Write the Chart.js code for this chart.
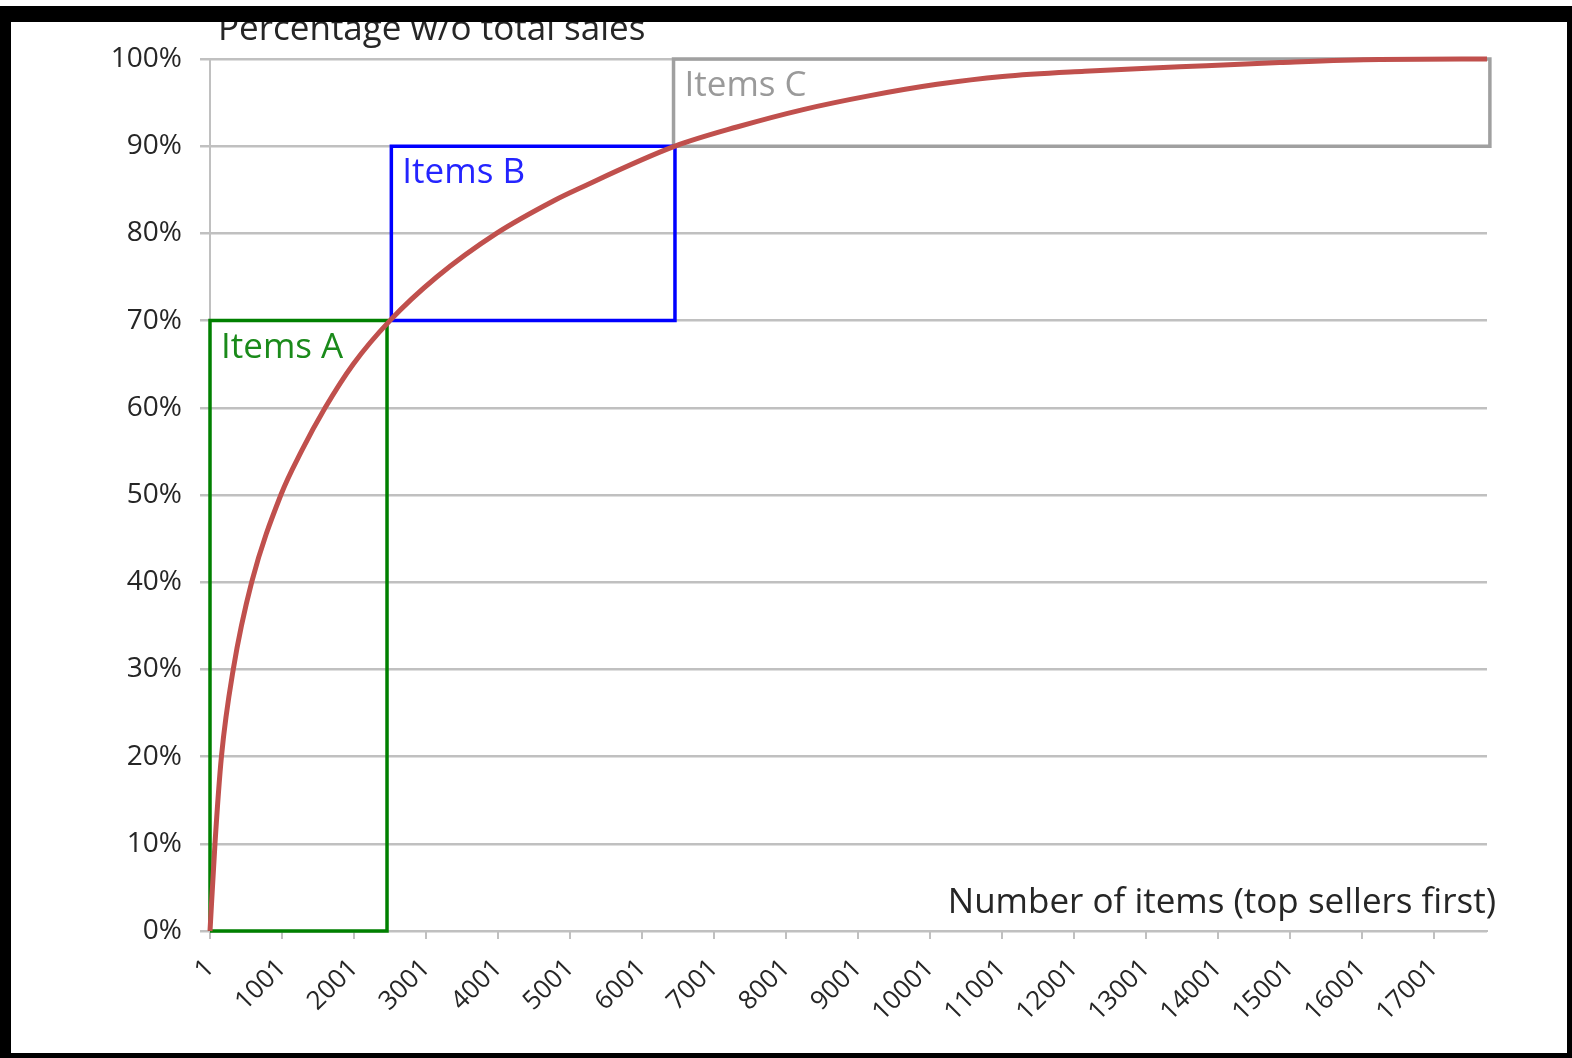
<!DOCTYPE html>
<html>
<head>
<meta charset="utf-8">
<script src="https://cdn.jsdelivr.net/npm/chart.js@4.4.1/dist/chart.umd.min.js"></script>
<style>
  html, body { margin: 0; padding: 0; background: #fff; }
  #wrap { position: relative; width: 1572px; height: 1058px; overflow: hidden; }
  #c { position: absolute; left: 0; top: 0; }
  /* schwarzer Rahmen vom Screenshot, liegt über dem Canvas */
  #frame { position: absolute; left: 0; top: 6px; width: 1572px; height: 1052px; box-sizing: border-box;
    border-style: solid; border-color: #000; border-width: 16px 5px 5px 11px; pointer-events: none; }
</style>
</head>
<body>
<div id="wrap">
  <canvas id="c" width="1572" height="1058"></canvas>
  <div id="frame"></div>
</div>
<script>
// Pareto-Kurve: kumulierter Umsatzanteil über Anzahl Artikel (Topseller zuerst)
const itemNo = [1, 70, 160, 324, 580, 985, 1270, 1600, 1990, 2500, 3150, 3980,
  4790, 5090, 6460, 7320, 8240, 9170, 10100, 11010, 12150, 13470, 14860, 16250, 17740];
const cumPct = [0, 10, 20, 30, 40, 50, 55, 60, 65, 70, 75, 80,
  83.8, 85, 90, 92.2, 94.2, 95.8, 97.1, 98.0, 98.6, 99.1, 99.6, 99.95, 100];

const xTicks = [1, 1001, 2001, 3001, 4001, 5001, 6001, 7001, 8001, 9001,
  10001, 11001, 12001, 13001, 14001, 15001, 16001, 17001];
const xMax = 17740;

// ABC-Klassen
const classNames = ["Items A", "Items B", "Items C"];
const classFrom = [1, 2520, 6440];
const classTo = [2460, 6460, 17780];
const classLow = [0, 70, 90];
const classHigh = [70, 90, 100];
const classColors = ["#008000", "#0000ff", "#a0a0a0"];
const labelColors = ["#1a8a1a", "#2424ff", "#9a9a9a"];

const FONT = "'Open Sans', sans-serif";
const TXT = "#262626";
const GRID = "#c0c0c0";

const boxDatasets = classNames.map((name, i) => ({
  label: name,
  data: [
    { x: classFrom[i], y: classLow[i] }, { x: classFrom[i], y: classHigh[i] },
    { x: classTo[i], y: classHigh[i] }, { x: classTo[i], y: classLow[i] },
    { x: classFrom[i], y: classLow[i] },
  ],
  borderColor: classColors[i], borderWidth: 3.5, pointRadius: 0, tension: 0,
  borderJoinStyle: "miter", clip: false,
}));

// Texte: Achsentitel oben links, x-Titel rechts im Plot, Klassenbeschriftungen
const textPlugin = {
  id: "texts",
  afterDatasetsDraw(chart) {
    const { ctx, chartArea: a, scales: { x, y } } = chart;
    ctx.save();
    ctx.textBaseline = "alphabetic";
    ctx.font = `35px ${FONT}`;
    ctx.fillStyle = TXT;
    ctx.textAlign = "left";
    ctx.fillText("Percentage w/o total sales", a.left + 8, a.top - 19);
    ctx.textAlign = "right";
    ctx.fillText("Number of items (top sellers first)", a.right + 9, a.bottom - 18);
    ctx.textAlign = "left";
    classNames.forEach((name, i) => {
      ctx.fillStyle = labelColors[i];
      ctx.fillText(name, x.getPixelForValue(classFrom[i]) + 11, y.getPixelForValue(classHigh[i]) + 37);
    });
    ctx.restore();
  },
};

new Chart(document.getElementById("c"), {
  type: "line",
  data: {
    datasets: [
      {
        label: "Cumulative sales",
        data: itemNo.map((n, i) => ({ x: n, y: cumPct[i] })),
        borderColor: "#c0504d", borderWidth: 5, pointRadius: 0,
        cubicInterpolationMode: "monotone", clip: false,
      },
      ...boxDatasets,
    ],
  },
  options: {
    responsive: false, animation: false,
    layout: { padding: { left: 0, right: 85, top: 59, bottom: 0 } },
    plugins: { legend: { display: false }, tooltip: { enabled: false } },
    scales: {
      x: {
        type: "linear", min: 1, max: xMax,
        afterBuildTicks: (s) => { s.ticks = xTicks.map((v) => ({ value: v })); },
        afterFit: (s) => { s.height = 127; },
        border: { display: true, color: GRID, width: 2 },
        grid: { drawOnChartArea: false, drawTicks: true, tickLength: 8, tickColor: GRID, lineWidth: 2 },
        ticks: { autoSkip: false, minRotation: 45, maxRotation: 45, padding: 14,
          color: TXT, font: { family: FONT, size: 26 }, callback: (v) => String(v) },
      },
      y: {
        min: 0, max: 100,
        afterFit: (s) => { s.width = 210; },
        border: { display: true, color: GRID, width: 2 },
        grid: { color: GRID, lineWidth: 2.5, drawTicks: true, tickLength: 10 },
        ticks: { stepSize: 10, padding: 18, color: TXT, font: { family: FONT, size: 28 },
          callback: (v) => v + "%" },
      },
    },
  },
  plugins: [textPlugin],
});
</script>
</body>
</html>
